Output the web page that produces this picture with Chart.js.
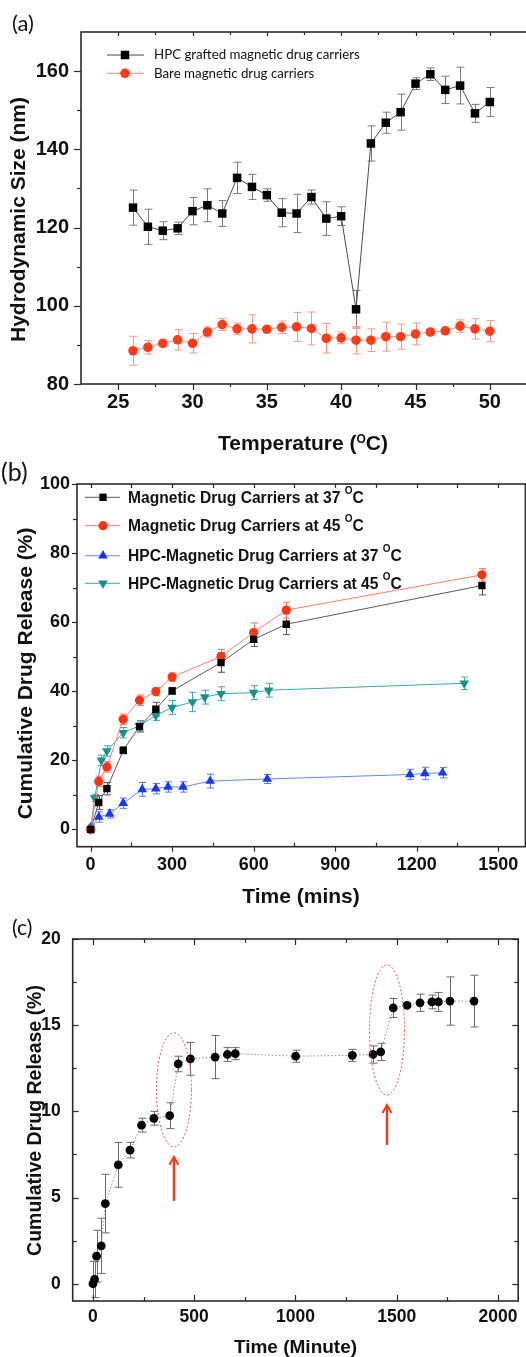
<!DOCTYPE html>
<html>
<head>
<meta charset="utf-8">
<script src="https://cdn.jsdelivr.net/npm/chart.js@4.4.0/dist/chart.umd.min.js"></script>
<style>
  html, body { margin: 0; padding: 0; background: #fff; overflow: hidden; }
  #wrap { position: relative; width: 526px; height: 1357px; overflow: hidden; }
  canvas { position: absolute; left: 0; }
</style>
</head>
<body>
<div id="wrap">
  <canvas id="chartA" width="540" height="460" style="top:0px"></canvas>
  <canvas id="chartB" width="540" height="450" style="top:460px"></canvas>
  <canvas id="chartC" width="540" height="447" style="top:910px"></canvas>
</div>
<script>
// ---------- (a) hydrodynamic size vs temperature
const tempC = [26,27,28,29,30,31,32,33,34,35,36,37,38,39,40,41,42,43,44,45,46,47,48,49,50];
const hpcSize = [125.1,120.2,119.2,119.8,124.2,125.7,123.6,132.7,130.4,128.3,123.8,123.6,127.8,122.3,122.9,99.1,141.5,146.8,149.5,156.8,159.2,155.2,156.3,149.2,152.1];
const hpcSizeErr = [4.5,4.5,2.3,1.6,3.5,4.2,3.3,4,3.2,1.6,3.6,4.9,1.8,4.3,2.4,4.8,4.5,2.7,4.6,1.5,1.6,3.5,4.7,2.3,3.7];
const bareSize = [88.5,89.4,90.4,91.3,90.4,93.3,95.2,94.1,94.1,94.0,94.5,94.6,94.2,91.7,91.8,91.2,91.2,92.1,92.1,92.8,93.3,93.6,94.8,94.1,93.5];
const bareSizeErr = [3.7,1.7,0.8,2.6,2.5,1.3,1.5,1.5,3.6,0.6,1.6,3.7,4.2,3.8,1.5,3.5,2.9,3.7,3.2,2.8,0.7,0.5,1.6,2.6,2.7];
const tempTicks = [25,30,35,40,45,50];
const sizeTicks = [80,100,120,140,160];

// ---------- (b) cumulative drug release, four carriers
const timeMag = [0,30,60,120,180,240,300,480,600,720,1440];
const relMag37 = [0,7.8,11.8,22.9,29.8,34.8,40.1,48.3,55.0,59.4,70.6];
const errMag37 = [0.8,2,1.8,1,1.6,2,1,2.8,2,3,2.7];
const relMag45 = [0,13.9,18.1,31.9,37.4,39.9,44.1,50.1,57.0,63.5,73.7];
const errMag45 = [0.5,1.5,1.5,1.5,1.5,1.2,1.2,2,2.8,2.3,1.8];
const timeHpc37 = [0,30,70,120,190,240,285,340,440,650,1175,1230,1295];
const relHpc37 = [0.5,3.6,4.5,7.6,11.6,11.8,12.3,12.3,14.0,14.6,15.9,16.2,16.4];
const errHpc37 = [1,1.5,1.2,1.5,2,1.5,1.5,1.5,2,1.3,1.5,1.8,1.5];
const timeHpc45 = [0,15,40,60,120,180,240,300,375,420,480,600,655,1375];
const relHpc45 = [0,9.1,20.0,22.7,28.0,30.0,33.0,35.3,36.9,38.3,39.3,39.6,40.3,42.3];
const errHpc45 = [1,1,1.5,1.5,1.5,1.5,1.5,2,2.8,2,2,2,2,1.8];
const timeTicksB = [0,300,600,900,1200,1500];
const relTicksB = [0,20,40,60,80,100];

// ---------- (c) cumulative drug release with magnetic field pulses
const timeC = [0,8,18,41,61,125,183,240,301,379,421,481,603,664,703,1001,1281,1383,1421,1483,1551,1615,1674,1706,1763,1882];
const relC = [0,0.25,1.6,2.2,4.65,6.9,7.75,9.2,9.6,9.75,12.75,13.05,13.15,13.3,13.35,13.2,13.25,13.3,13.45,16.0,16.15,16.3,16.35,16.35,16.4,16.4];
const errC = [1.3,1.05,1.5,1.6,1.7,1.3,0.45,0.4,0.4,0.75,0.45,0.95,1.25,0.4,0.35,0.35,0.35,0.5,0.5,0.55,0.1,0.5,0.4,0.55,1.4,1.5];
const timeTicksC = [0,500,1000,1500,2000];
const relTicksC = [0,5,10,15,20];
const stepPairs = [[9,10],[18,19]];   // jumps after the field was switched on

const FONT = "'Liberation Sans', Arial, Helvetica, sans-serif";
const pts = (xs, ys) => xs.map((x, i) => ({x: x, y: ys[i]}));

// minor ticks halfway between the major ones
function halfSteps(major, min, max) {
  const step = major[1] - major[0], out = [];
  for (let v = major[0] - step / 2; v < max; v += step) if (v > min) out.push(v);
  return out;
}

function marker(ctx, style, r, rot, x, y, fill) {
  ctx.fillStyle = fill;
  ctx.beginPath();
  if (style === 'rect') {
    const s = r * Math.SQRT1_2;
    ctx.rect(x - s, y - s, 2 * s, 2 * s);
  } else if (style === 'triangle') {
    let ang = (rot || 0) * Math.PI / 180;
    ctx.moveTo(x + Math.sin(ang) * r, y - Math.cos(ang) * r);
    for (let k = 0; k < 2; k++) {
      ang += 2 * Math.PI / 3;
      ctx.lineTo(x + Math.sin(ang) * r, y - Math.cos(ang) * r);
    }
    ctx.closePath();
  } else {
    ctx.arc(x, y, r, 0, Math.PI * 2);
  }
  ctx.fill();
}

// text with a raised "O" standing for the degree sign
function degText(ctx, label, size, x, baseY, align, supSize, lift, weight) {
  const parts = label.split('°');
  const f1 = `${weight} ${size}px ${FONT}`, f2 = `${weight} ${supSize}px ${FONT}`;
  ctx.font = f1;
  const w1 = ctx.measureText(parts[0]).width;
  const w3 = parts.length > 1 ? ctx.measureText(parts[1]).width : 0;
  ctx.font = f2;
  const w2 = parts.length > 1 ? ctx.measureText('O').width : 0;
  const x0 = align === 'center' ? x - (w1 + w2 + w3) / 2 : x;
  ctx.textAlign = 'left';
  ctx.textBaseline = 'alphabetic';
  ctx.font = f1;
  ctx.fillText(parts[0], x0, baseY);
  if (parts.length > 1) {
    ctx.font = f2;
    ctx.fillText('O', x0 + w1, baseY - lift);
    ctx.font = f1;
    ctx.fillText(parts[1], x0 + w1 + w2, baseY);
  }
}

function tickSet(ctx, scale, values, side, a, len) {
  // len = [outward, inward]
  values.forEach(v => {
    const p = Math.round(scale.getPixelForValue(v)) + 0.5;
    ctx.beginPath();
    if (side === 'bottom') { ctx.moveTo(p, a.bottom + len[0]); ctx.lineTo(p, a.bottom - len[1]); }
    if (side === 'top') { ctx.moveTo(p, a.top - len[0]); ctx.lineTo(p, a.top + len[1]); }
    if (side === 'left') { ctx.moveTo(a.left - len[0], p); ctx.lineTo(a.left + len[1], p); }
    if (side === 'right') { ctx.moveTo(a.right + len[0], p); ctx.lineTo(a.right - len[1], p); }
    ctx.stroke();
  });
}

const decor = {
  id: 'decor',
  beforeDatasetsDraw(chart, args, o) {
    const ctx = chart.ctx, a = chart.chartArea, ys = chart.scales.y;
    ctx.save();
    ctx.beginPath();
    ctx.rect(a.left, a.top, a.right - a.left, a.bottom - a.top);
    ctx.clip();
    chart.data.datasets.forEach((ds, i) => {
      if (!ds.errors) return;
      const meta = chart.getDatasetMeta(i);
      ctx.strokeStyle = ds.errorColor;
      ctx.lineWidth = 1;
      meta.data.forEach((pt, j) => {
        const v = ds.data[j].y, e = ds.errors[j];
        const y1 = ys.getPixelForValue(v + e), y2 = ys.getPixelForValue(v - e);
        const x = Math.round(pt.x) + 0.5, c = o.cap;
        ctx.beginPath();
        ctx.moveTo(x, y1); ctx.lineTo(x, y2);
        ctx.moveTo(x - c, y1); ctx.lineTo(x + c, y1);
        ctx.moveTo(x - c, y2); ctx.lineTo(x + c, y2);
        ctx.stroke();
      });
    });
    ctx.restore();
  },
  afterDraw(chart, args, o) {
    const ctx = chart.ctx, a = chart.chartArea, xs = chart.scales.x, ys = chart.scales.y;
    ctx.save();
    // frame
    ctx.strokeStyle = '#2b2b2b';
    ctx.lineWidth = 1.6;
    ctx.strokeRect(a.left, a.top, a.right - a.left, a.bottom - a.top);
    // tick marks
    ctx.lineWidth = 1.2;
    const t = o.ticks;
    const xMajor = xs.ticks.map(k => k.value), yMajor = ys.ticks.map(k => k.value);
    const xMinor = halfSteps(xMajor, xs.min, xs.max), yMinor = halfSteps(yMajor, ys.min, ys.max);
    Object.keys(t).forEach(side => {
      const sc = (side === 'left' || side === 'right') ? ys : xs;
      const maj = sc === ys ? yMajor : xMajor, min = sc === ys ? yMinor : xMinor;
      tickSet(ctx, sc, maj, side, a, t[side].major);
      tickSet(ctx, sc, min, side, a, t[side].minor);
    });
    // axis titles
    ctx.fillStyle = '#111';
    const xt = o.xTitle;
    degText(ctx, xt.text, xt.size, xt.x, xt.y, 'center', xt.supSize || 12, xt.lift || 7, 'bold');
    const yt = o.yTitle;
    ctx.save();
    ctx.translate(yt.x, yt.y);
    ctx.rotate(-Math.PI / 2);
    ctx.font = `bold ${yt.size}px ${FONT}`;
    ctx.textAlign = 'center';
    ctx.textBaseline = 'middle';
    ctx.fillText(yt.text, 0, 0);
    ctx.restore();
    // panel letter
    const pl = o.panel;
    ctx.font = `${pl.size}px Lato, 'Open Sans', sans-serif`;
    ctx.fillStyle = '#111';
    ctx.textAlign = 'left';
    ctx.textBaseline = 'middle';
    ctx.fillText(pl.text, pl.x, pl.y);
    // legend
    if (o.legend) {
      const L = o.legend;
      chart.data.datasets.forEach((ds, i) => {
        const y = L.rows[i];
        ctx.strokeStyle = ds.borderColor;
        ctx.lineWidth = 1;
        ctx.beginPath();
        ctx.moveTo(L.x0, y); ctx.lineTo(L.x1, y);
        ctx.stroke();
        marker(ctx, ds.pointStyle, ds.pointRadius, ds.pointRotation, L.xm, y, ds.pointBackgroundColor);
        ctx.fillStyle = '#111';
        if (L.weight === 'bold') {
          degText(ctx, ds.label, L.size, L.xt, y + L.base, 'left', L.supSize, L.lift, 'bold');
        } else {
          ctx.font = `${L.size}px ${L.family}`;
          ctx.textAlign = 'left';
          ctx.textBaseline = 'middle';
          ctx.fillText(ds.label, L.xt, y);
        }
      });
    }
    // highlighted release steps (panel c)
    if (o.highlights) {
      const meta = chart.getDatasetMeta(0);
      o.highlights.forEach(h => {
        const p = meta.data[h.pair[0]], q = meta.data[h.pair[1]];
        const cx = (p.x + q.x) / 2, cy = (p.y + q.y) / 2;
        ctx.strokeStyle = '#f0503a';
        ctx.lineWidth = 1;
        ctx.setLineDash([2, 2]);
        ctx.beginPath();
        ctx.ellipse(cx, cy, h.rx, h.ry, 0, 0, Math.PI * 2);
        ctx.stroke();
        ctx.setLineDash([]);
        const tip = cy + h.ry + 10, tail = tip + h.len;
        ctx.strokeStyle = '#f23c1c';
        ctx.lineWidth = 2.5;
        ctx.beginPath();
        ctx.moveTo(cx, tail); ctx.lineTo(cx, tip + 1);
        ctx.stroke();
        ctx.lineWidth = 2;
        ctx.beginPath();
        ctx.moveTo(cx - 4.5, tip + 8); ctx.lineTo(cx, tip); ctx.lineTo(cx + 4.5, tip + 8);
        ctx.stroke();
      });
    }
    ctx.restore();
  }
};

function axis(min, max, tickVals, fontSize, pad, fit) {
  return {
    type: 'linear', min: min, max: max,
    grid: { display: false, drawTicks: false },
    border: { display: false },
    afterBuildTicks: s => { s.ticks = tickVals.map(v => ({ value: v })); },
    afterFit: fit,
    ticks: { autoSkip: false, maxRotation: 0, padding: pad, color: '#111',
             callback: v => String(v),
             font: { family: FONT, size: fontSize, weight: 'bold' } }
  };
}

function baseOptions(pad, scales, decorOpts) {
  return {
    responsive: false,
    animation: false,
    events: [],
    layout: { padding: pad },
    plugins: { legend: { display: false }, tooltip: { enabled: false }, decor: decorOpts },
    scales: scales
  };
}

// ---------- chart (a)
new Chart(document.getElementById('chartA'), {
  type: 'scatter',
  data: {
    datasets: [{
      label: 'HPC grafted magnetic drug carriers',
      data: pts(tempC, hpcSize), errors: hpcSizeErr, errorColor: '#7a7a7a',
      showLine: true, borderColor: '#4a4a4a', borderWidth: 1,
      pointStyle: 'rect', pointRadius: 6, pointBorderWidth: 0, pointBackgroundColor: '#000'
    }, {
      label: 'Bare magnetic drug carriers',
      data: pts(tempC, bareSize), errors: bareSizeErr, errorColor: '#ff9686',
      showLine: true, borderColor: '#ff8c7a', borderWidth: 1,
      pointStyle: 'circle', pointRadius: 4.8, pointBorderWidth: 0, pointBackgroundColor: '#ff3b1a'
    }]
  },
  options: baseOptions({ left: 0, top: 32, right: 13, bottom: 0 }, {
    x: axis(22.5, 52.5, tempTicks, 20, 6, s => { s.height = 76; }),
    y: axis(80, 170, sizeTicks, 20, 12, s => { s.width = 81; })
  }, {
    cap: 4,
    ticks: { left: { major: [7, 0], minor: [4, 0] }, bottom: { major: [6, 0], minor: [3, 0] },
             top: { major: [0, 4], minor: [0, 3] } },
    xTitle: { text: 'Temperature (°C)', size: 21, x: 303, y: 450, supSize: 12, lift: 7.4 },
    yTitle: { text: 'Hydrodynamic Size (nm)', size: 21, x: 19, y: 219.5 },
    panel: { text: '(a)', size: 22, x: 12, y: 24 },
    legend: { rows: [55, 73.3], x0: 107, x1: 144, xm: 125, xt: 154, size: 13.3,
              family: "Lato, 'Open Sans', sans-serif", weight: 'normal' }
  }),
  plugins: [decor]
});

// ---------- chart (b)
new Chart(document.getElementById('chartB'), {
  type: 'scatter',
  data: {
    datasets: [{
      label: 'Magnetic Drug Carriers at 37 °C',
      data: pts(timeMag, relMag37), errors: errMag37, errorColor: '#555',
      showLine: true, borderColor: '#5a5a5a', borderWidth: 1,
      pointStyle: 'rect', pointRadius: 5.2, pointBorderWidth: 0, pointBackgroundColor: '#000'
    }, {
      label: 'Magnetic Drug Carriers at 45 °C',
      data: pts(timeMag, relMag45), errors: errMag45, errorColor: '#ff7262',
      showLine: true, borderColor: '#ff7f6e', borderWidth: 1,
      pointStyle: 'circle', pointRadius: 4.6, pointBorderWidth: 0, pointBackgroundColor: '#ff3212'
    }, {
      label: 'HPC-Magnetic Drug Carriers at 37 °C',
      data: pts(timeHpc37, relHpc37), errors: errHpc37, errorColor: '#5a78ff',
      showLine: true, borderColor: '#6a85ff', borderWidth: 1,
      pointStyle: 'triangle', pointRadius: 5.6, pointBorderWidth: 0, pointBackgroundColor: '#1537ff'
    }, {
      label: 'HPC-Magnetic Drug Carriers at 45 °C',
      data: pts(timeHpc45, relHpc45), errors: errHpc45, errorColor: '#3fa9a4',
      showLine: true, borderColor: '#3aa9a5', borderWidth: 1,
      pointStyle: 'triangle', pointRotation: 180, pointRadius: 5.6, pointBorderWidth: 0,
      pointBackgroundColor: '#17918d'
    }]
  },
  options: baseOptions({ left: 0, top: 24, right: 14.6, bottom: 0 }, {
    x: axis(-50, 1600, timeTicksB, 18, 8, s => { s.height = 63.3; }),
    y: axis(-5, 100, relTicksB, 18, 7, s => { s.width = 77; })
  }, {
    cap: 3.5,
    ticks: { left: { major: [5, 0], minor: [4, 0] }, bottom: { major: [5, 0], minor: [0, 4] },
             top: { major: [0, 4], minor: [0, 4] } },
    xTitle: { text: 'Time (mins)', size: 21, x: 301, y: 442.5 },
    yTitle: { text: 'Cumulative Drug Release (%)', size: 21, x: 26, y: 213.5 },
    panel: { text: '(b)', size: 25, x: 1, y: 13 },
    legend: { rows: [37.3, 65.7, 95.7, 123.3], x0: 85, x1: 120, xm: 103, xt: 128, size: 15.6,
              weight: 'bold', base: 5.5, supSize: 10, lift: 8.8 }
  }),
  plugins: [decor]
});

// ---------- chart (c)
new Chart(document.getElementById('chartC'), {
  type: 'scatter',
  data: {
    datasets: [{
      label: 'Cumulative drug release',
      data: pts(timeC, relC), errors: errC, errorColor: '#6a6a6a',
      showLine: true, borderColor: '#8f8f8f', borderWidth: 1, borderDash: [1.5, 2],
      pointStyle: 'circle', pointRadius: 4.4, pointBorderWidth: 0, pointBackgroundColor: '#000'
    }]
  },
  options: baseOptions({ left: 0, top: 29, right: 21.8, bottom: 0 }, {
    x: axis(-100, 2100, timeTicksC, 17.5, 6, s => { s.height = 56; }),
    y: axis(-1, 20, relTicksC, 17.5, 12, s => { s.width = 72.7; })
  }, {
    cap: 4,
    ticks: { left: { major: [0, 6], minor: [0, 4] }, bottom: { major: [0, 6], minor: [0, 4] },
             top: { major: [0, 6], minor: [0, 4] }, right: { major: [0, 6], minor: [0, 4] } },
    xTitle: { text: 'Time (Minute)', size: 19, x: 295.5, y: 442.5 },
    yTitle: { text: 'Cumulative Drug Release (%)', size: 19.5, x: 36, y: 210.5 },
    panel: { text: '(c)', size: 21, x: 12, y: 18 },
    highlights: stepPairs.map((p, k) => ({ pair: p, rx: 17.5, ry: k === 0 ? 57 : 65, len: k === 0 ? 44 : 40 }))
  }),
  plugins: [decor]
});
</script>
</body>
</html>
